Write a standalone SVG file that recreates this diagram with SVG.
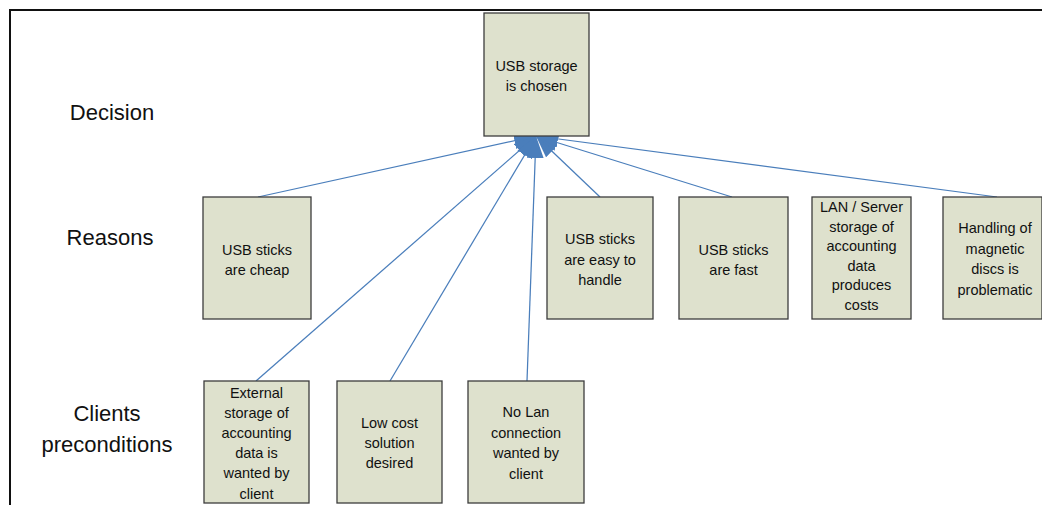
<svg xmlns="http://www.w3.org/2000/svg" width="1042" height="505" viewBox="0 0 1042 505">
  <style>
    .box { fill: #DEE1CD; stroke: #3c3c3c; stroke-width: 1.3; }
    .txt { font-family: "Liberation Sans", Arial, sans-serif; font-size: 14.5px; fill: #111; text-anchor: middle; }
    .lvl { font-family: "Liberation Sans", Arial, sans-serif; font-size: 22px; fill: #111; text-anchor: middle; }
    .conn { fill: none; stroke: #4A7EBB; stroke-width: 1.25; marker-end: url(#arrow); }
  </style>
  <defs>
    <marker id="arrow" markerUnits="userSpaceOnUse" markerWidth="22" markerHeight="17" refX="22" refY="8.5" orient="auto">
      <path d="M0,0 L22,8.5 L0,17 z" fill="#4A7EBB"/>
    </marker>
  </defs>

  <rect width="1042" height="505" fill="#ffffff"/>
  <!-- frame -->
  <path d="M10,505 V10 H1042" fill="none" stroke="#111" stroke-width="2"/>

  <!-- level labels -->
  <g id="level-labels">
    <text class="lvl" x="112" y="120">Decision</text>
    <text class="lvl" x="110" y="245">Reasons</text>
    <text class="lvl" x="107" y="421">Clients</text>
    <text class="lvl" x="107" y="452">preconditions</text>
  </g>

  <!-- connectors: every reason and precondition points to the decision -->
  <g id="connectors">
    <line class="conn" x1="258" y1="197" x2="536" y2="136"/>
    <line class="conn" x1="600" y1="197" x2="536" y2="136"/>
    <line class="conn" x1="732" y1="197" x2="536" y2="136"/>
    <line class="conn" x1="997" y1="197" x2="536" y2="136"/>
    <line class="conn" x1="256" y1="381" x2="536" y2="136"/>
    <line class="conn" x1="390" y1="381" x2="536" y2="136"/>
    <line class="conn" x1="527" y1="381" x2="536" y2="136"/>
  </g>

  <g id="decision">
    <rect class="box" x="484" y="13" width="105" height="123"/>
    <text class="txt" x="536.5" y="70.5">USB storage</text>
    <text class="txt" x="536.5" y="91">is chosen</text>
  </g>

  <g id="reason-cheap">
    <rect class="box" x="203" y="197" width="108" height="122"/>
    <text class="txt" x="257" y="255">USB sticks</text>
    <text class="txt" x="257" y="275">are cheap</text>
  </g>

  <g id="reason-easy">
    <rect class="box" x="547" y="197" width="106" height="122"/>
    <text class="txt" x="600" y="244">USB sticks</text>
    <text class="txt" x="600" y="264.5">are easy to</text>
    <text class="txt" x="600" y="285">handle</text>
  </g>

  <g id="reason-fast">
    <rect class="box" x="679" y="197" width="109" height="122"/>
    <text class="txt" x="733.5" y="255">USB sticks</text>
    <text class="txt" x="733.5" y="275">are fast</text>
  </g>

  <g id="reason-lan">
    <rect class="box" x="812" y="197" width="99" height="122"/>
    <text class="txt" x="861.5" y="212">LAN / Server</text>
    <text class="txt" x="861.5" y="231.5">storage of</text>
    <text class="txt" x="861.5" y="251">accounting</text>
    <text class="txt" x="861.5" y="270.5">data</text>
    <text class="txt" x="861.5" y="290">produces</text>
    <text class="txt" x="861.5" y="309.5">costs</text>
  </g>

  <g id="reason-magnetic">
    <rect class="box" x="943" y="197" width="99" height="122"/>
    <text class="txt" x="995" y="233">Handling of</text>
    <text class="txt" x="995" y="253.5">magnetic</text>
    <text class="txt" x="995" y="274">discs is</text>
    <text class="txt" x="995" y="294.5">problematic</text>
  </g>

  <g id="pre-external">
    <rect class="box" x="204" y="381" width="105" height="122"/>
    <text class="txt" x="256.5" y="397.5">External</text>
    <text class="txt" x="256.5" y="417.7">storage of</text>
    <text class="txt" x="256.5" y="437.9">accounting</text>
    <text class="txt" x="256.5" y="458.1">data is</text>
    <text class="txt" x="256.5" y="478.3">wanted by</text>
    <text class="txt" x="256.5" y="498.5">client</text>
  </g>

  <g id="pre-lowcost">
    <rect class="box" x="337" y="381" width="105" height="122"/>
    <text class="txt" x="389.5" y="428">Low cost</text>
    <text class="txt" x="389.5" y="448">solution</text>
    <text class="txt" x="389.5" y="468">desired</text>
  </g>

  <g id="pre-nolan">
    <rect class="box" x="468" y="381" width="116" height="122"/>
    <text class="txt" x="526" y="417">No Lan</text>
    <text class="txt" x="526" y="437.5">connection</text>
    <text class="txt" x="526" y="458">wanted by</text>
    <text class="txt" x="526" y="478.5">client</text>
  </g>
</svg>
